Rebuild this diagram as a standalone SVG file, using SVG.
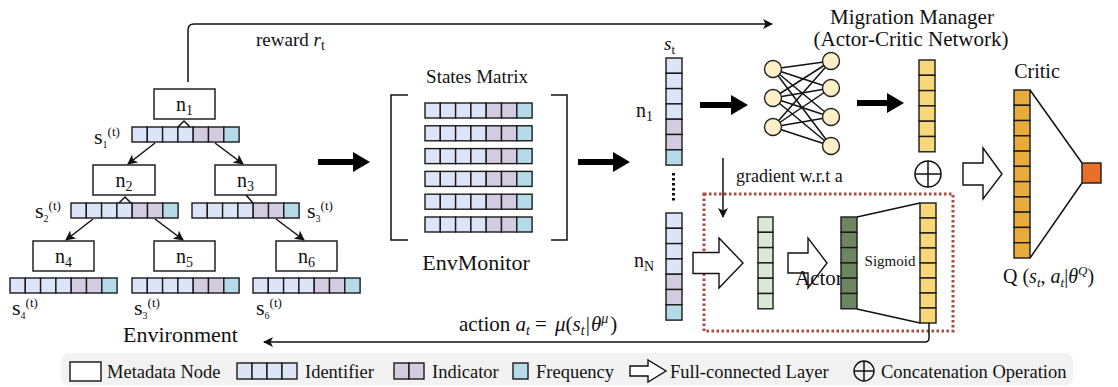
<svg xmlns="http://www.w3.org/2000/svg" width="1118" height="387" viewBox="0 0 1118 387">
<style>
.t{font-family:"Liberation Serif","Times New Roman",serif;fill:#111}
.i{font-style:italic}
.c{stroke:#1a1a1a;stroke-width:1.4}
.id{fill:#dce5f7}.ind{fill:#d3cce1}.fr{fill:#b5dbe9}
.nb{fill:#fff;stroke:#222;stroke-width:1.5}
.ln{stroke:#111;stroke-width:1.5;fill:none}
.ha{fill:#fff;stroke:#111;stroke-width:1.4}
.ta{fill:#000}
.nn{fill:#fdf0c8;stroke:#222;stroke-width:1.4}
.y{fill:#f9d87a}.cr{fill:#e8ab3c}.lg{fill:#d9e9d3}.dg{fill:#6d8661}
</style>
<defs>
<marker id="ah" viewBox="0 0 10 10" refX="9" refY="5" markerWidth="10" markerHeight="10" markerUnits="userSpaceOnUse" orient="auto">
<path d="M0,0 L10,5 L0,10 L2.5,5 Z" fill="#111"/>
</marker>
<g id="hs">
<rect class="c id" x="0" y="0" width="15.3" height="15"/>
<rect class="c id" x="15.3" y="0" width="15.3" height="15"/>
<rect class="c id" x="30.6" y="0" width="15.3" height="15"/>
<rect class="c id" x="45.9" y="0" width="15.3" height="15"/>
<rect class="c ind" x="61.2" y="0" width="15.3" height="15"/>
<rect class="c ind" x="76.5" y="0" width="15.3" height="15"/>
<rect class="c fr" x="91.8" y="0" width="15.3" height="15"/>
</g>
<g id="vs">
<rect class="c id" x="0" y="0" width="16" height="15.3"/>
<rect class="c id" x="0" y="15.3" width="16" height="15.3"/>
<rect class="c id" x="0" y="30.6" width="16" height="15.3"/>
<rect class="c id" x="0" y="45.9" width="16" height="15.3"/>
<rect class="c ind" x="0" y="61.2" width="16" height="15.3"/>
<rect class="c ind" x="0" y="76.5" width="16" height="15.3"/>
<rect class="c fr" x="0" y="91.8" width="16" height="15.3"/>
</g>
<path id="thick" d="M0,-3 H35 V-10 L52,0 L35,10 V3 H0 Z"/>
</defs>

<g id="tree">
<g id="n1"><rect class="nb" x="154" y="89" width="61" height="30"/><text class="t" x="184.5" y="111" font-size="20" text-anchor="middle">n<tspan font-size="14" dy="4">1</tspan></text></g>
<g id="n2"><rect class="nb" x="93" y="165" width="62" height="30"/><text class="t" x="124" y="187" font-size="20" text-anchor="middle">n<tspan font-size="14" dy="4">2</tspan></text></g>
<g id="n3"><rect class="nb" x="215" y="165" width="61" height="30"/><text class="t" x="245.5" y="187" font-size="20" text-anchor="middle">n<tspan font-size="14" dy="4">3</tspan></text></g>
<g id="n4"><rect class="nb" x="33" y="241" width="61" height="30"/><text class="t" x="63.5" y="263" font-size="20" text-anchor="middle">n<tspan font-size="14" dy="4">4</tspan></text></g>
<g id="n5"><rect class="nb" x="154" y="241" width="61" height="30"/><text class="t" x="184.5" y="263" font-size="20" text-anchor="middle">n<tspan font-size="14" dy="4">5</tspan></text></g>
<g id="n6"><rect class="nb" x="276" y="241" width="61" height="30"/><text class="t" x="306.5" y="263" font-size="20" text-anchor="middle">n<tspan font-size="14" dy="4">6</tspan></text></g>
<g id="s1"><use href="#hs" x="132" y="127"/><text class="t" x="94" y="144" font-size="22">s<tspan font-size="10" dy="4">1</tspan><tspan font-size="13" dy="-12">(t)</tspan></text></g>
<g id="s2"><use href="#hs" x="71" y="203"/><text class="t" x="35" y="218" font-size="22">s<tspan font-size="10" dy="4">2</tspan><tspan font-size="13" dy="-12">(t)</tspan></text></g>
<g id="s3"><use href="#hs" x="192" y="203"/><text class="t" x="307" y="218" font-size="22">s<tspan font-size="10" dy="4">3</tspan><tspan font-size="13" dy="-12">(t)</tspan></text></g>
<g id="s4"><use href="#hs" x="10" y="278"/><text class="t" x="12" y="315" font-size="22">s<tspan font-size="10" dy="4">4</tspan><tspan font-size="13" dy="-12">(t)</tspan></text></g>
<g id="s5"><use href="#hs" x="132" y="278"/><text class="t" x="134" y="315" font-size="22">s<tspan font-size="10" dy="4">3</tspan><tspan font-size="13" dy="-12">(t)</tspan></text></g>
<g id="s6"><use href="#hs" x="253" y="278"/><text class="t" x="256" y="315" font-size="22">s<tspan font-size="10" dy="4">6</tspan><tspan font-size="13" dy="-12">(t)</tspan></text></g>
<text class="t" x="123" y="342" font-size="22">Environment</text>
</g>

<g id="env-monitor">
<text class="t" x="477" y="83" font-size="19" text-anchor="middle">States Matrix</text>
<path class="ln" d="M408,95 H391 V240 H408"/>
<path class="ln" d="M551,95 H567 V240 H551"/>
<use href="#hs" x="425" y="103"/>
<use href="#hs" x="425" y="125.8"/>
<use href="#hs" x="425" y="148.6"/>
<use href="#hs" x="425" y="171.4"/>
<use href="#hs" x="425" y="194.2"/>
<use href="#hs" x="425" y="217"/>
<text class="t" x="476" y="270" font-size="22" text-anchor="middle">EnvMonitor</text>
</g>

<g id="state-vector">
<text class="t i" x="664" y="50" font-size="19">s<tspan font-style="normal" font-size="13" dy="4">t</tspan></text>
<use href="#vs" x="666" y="58"/>
<use href="#vs" x="666" y="213"/>
<text class="t" x="636" y="117" font-size="20">n<tspan font-size="14" dy="4">1</tspan></text>
<text class="t" x="634" y="267" font-size="20">n<tspan font-size="14" dy="4">N</tspan></text>
<line x1="673.5" y1="173" x2="673.5" y2="201" stroke="#111" stroke-width="3" stroke-dasharray="2.5 2.5"/>
</g>

<g id="migration-manager">
<text class="t" x="912" y="24" font-size="21" text-anchor="middle">Migration Manager</text>
<text class="t" x="911" y="46" font-size="21" text-anchor="middle">(Actor-Critic Network)</text>
<g class="ln" stroke-width="1.3">
<line x1="773" y1="69" x2="831" y2="61"/><line x1="773" y1="69" x2="831" y2="88"/><line x1="773" y1="69" x2="831" y2="117"/><line x1="773" y1="69" x2="831" y2="146"/>
<line x1="773" y1="98" x2="831" y2="61"/><line x1="773" y1="98" x2="831" y2="88"/><line x1="773" y1="98" x2="831" y2="117"/><line x1="773" y1="98" x2="831" y2="146"/>
<line x1="773" y1="127" x2="831" y2="61"/><line x1="773" y1="127" x2="831" y2="88"/><line x1="773" y1="127" x2="831" y2="117"/><line x1="773" y1="127" x2="831" y2="146"/>
</g>
<circle class="nn" cx="773" cy="69" r="8.5"/><circle class="nn" cx="773" cy="98" r="8.5"/><circle class="nn" cx="773" cy="127" r="8.5"/>
<circle class="nn" cx="831" cy="61" r="8.5"/><circle class="nn" cx="831" cy="88" r="8.5"/><circle class="nn" cx="831" cy="117" r="8.5"/><circle class="nn" cx="831" cy="146" r="8.5"/>
<g class="c y">
<rect x="919" y="60" width="16" height="15.3"/><rect x="919" y="75.3" width="16" height="15.3"/><rect x="919" y="90.6" width="16" height="15.3"/><rect x="919" y="105.9" width="16" height="15.3"/><rect x="919" y="121.2" width="16" height="15.3"/><rect x="919" y="136.5" width="16" height="15.3"/>
</g>
<g id="concat"><circle cx="928" cy="174" r="13" fill="#fff" stroke="#111" stroke-width="1.5"/><path class="ln" d="M915,174 H941 M928,161 V187"/></g>
</g>

<g id="actor">
<rect x="704" y="194" width="249" height="137" fill="none" stroke="#b04a3c" stroke-width="3" stroke-dasharray="2.5 2.5"/>
<path class="ha" d="M693,252.5 H719 V238 L743,263 L719,288 V273.5 H693 Z"/>
<g class="c lg">
<rect x="758" y="217" width="15" height="15.3"/><rect x="758" y="232.3" width="15" height="15.3"/><rect x="758" y="247.6" width="15" height="15.3"/><rect x="758" y="262.9" width="15" height="15.3"/><rect x="758" y="278.2" width="15" height="15.3"/><rect x="758" y="293.5" width="15" height="15.3"/>
</g>
<path class="ha" d="M788,253 H808 V238 L827,263 L808,288 V273 H788 Z"/>
<text class="t" x="795" y="285" font-size="21">Actor</text>
<g class="c dg">
<rect x="841" y="217" width="16" height="15.3"/><rect x="841" y="232.3" width="16" height="15.3"/><rect x="841" y="247.6" width="16" height="15.3"/><rect x="841" y="262.9" width="16" height="15.3"/><rect x="841" y="278.2" width="16" height="15.3"/><rect x="841" y="293.5" width="16" height="15.3"/>
</g>
<path class="ln" d="M857,217 L920,203 M857,309 L920,323"/>
<text class="t" x="890" y="266" font-size="15" text-anchor="middle">Sigmoid</text>
<g class="c y">
<rect x="920" y="203" width="16" height="15"/><rect x="920" y="218" width="16" height="15"/><rect x="920" y="233" width="16" height="15"/><rect x="920" y="248" width="16" height="15"/><rect x="920" y="263" width="16" height="15"/><rect x="920" y="278" width="16" height="15"/><rect x="920" y="293" width="16" height="15"/><rect x="920" y="308" width="16" height="15"/>
</g>
</g>

<g id="critic">
<text class="t" x="1037" y="78" font-size="20" text-anchor="middle">Critic</text>
<path class="ha" d="M963,163 H983 V148 L1002,174 L983,199 V185 H963 Z"/>
<g class="c cr">
<rect x="1014" y="90" width="16" height="15.27"/><rect x="1014" y="105.27" width="16" height="15.27"/><rect x="1014" y="120.54" width="16" height="15.27"/><rect x="1014" y="135.81" width="16" height="15.27"/><rect x="1014" y="151.08" width="16" height="15.27"/><rect x="1014" y="166.35" width="16" height="15.27"/><rect x="1014" y="181.62" width="16" height="15.27"/><rect x="1014" y="196.89" width="16" height="15.27"/><rect x="1014" y="212.16" width="16" height="15.27"/><rect x="1014" y="227.43" width="16" height="15.27"/><rect x="1014" y="242.7" width="16" height="15.3"/>
</g>
<path class="ln" d="M1030,90 L1082,163 M1030,258 L1082,183"/>
<rect x="1082" y="163" width="19" height="20" fill="#e8702a" stroke="#1a1a1a" stroke-width="1.4"/>
<text class="t" x="1003" y="283" font-size="20">Q (<tspan class="i">s</tspan><tspan font-size="13" dy="4" class="i">t</tspan><tspan dy="-4">, </tspan><tspan class="i">a</tspan><tspan font-size="13" dy="4" class="i">t</tspan><tspan dy="-4">|</tspan><tspan class="i">θ</tspan><tspan font-size="13" dy="-8" class="i">Q</tspan><tspan dy="8">)</tspan></text>
</g>

<g id="connectors">
<path class="ln" d="M155,143 L128,164" marker-end="url(#ah)"/>
<path class="ln" d="M215,143 L243,164" marker-end="url(#ah)"/>
<path class="ln" d="M93,219 L66,240" marker-end="url(#ah)"/>
<path class="ln" d="M155,219 L183,240" marker-end="url(#ah)"/>
<path class="ln" d="M276,219 L304,240" marker-end="url(#ah)"/>
<path class="ln" d="M178,127 L184,121 L190,127 M119,203 L125,197 L131,203 M246,195 L253,203"/>
<use href="#thick" class="ta" x="318" y="162"/>
<use href="#thick" class="ta" x="578" y="162"/>
<path class="ta" d="M700,102 H731 V95 L748,105 L731,115 V108 H700 Z"/>
<path class="ta" d="M857,100 H887 V93 L904,103 L887,113 V106 H857 Z"/>
<path class="ln" d="M188,82 V30 Q188,24 194,24 H772" marker-end="url(#ah)"/>
<text class="t" x="256" y="46" font-size="19">reward <tspan class="i">r</tspan><tspan font-size="14" dy="4">t</tspan></text>
<path class="ln" d="M723,158 V217" marker-end="url(#ah)"/>
<text class="t" x="736" y="182" font-size="18">gradient w.r.t a</text>
<path class="ln" d="M929,323 V338 Q929,342 925,342 H264" marker-end="url(#ah)"/>
<text class="t" x="459" y="331" font-size="21">action <tspan class="i">a</tspan><tspan font-size="14" dy="4" class="i">t</tspan><tspan dy="-4" dx="5">= </tspan><tspan class="i" dx="3">μ</tspan>(<tspan class="i">s</tspan><tspan font-size="14" dy="4" class="i">t</tspan><tspan dy="-4" dx="1">|</tspan><tspan class="i" dx="1">θ</tspan><tspan font-size="14" dy="-8" class="i">μ</tspan><tspan dy="8" dx="2">)</tspan></text>
</g>

<g id="legend">
<rect x="61" y="353" width="1012" height="32" rx="8" fill="#f2f2f2"/>
<rect class="nb" x="70" y="362" width="31" height="19"/>
<text class="t" x="107" y="378" font-size="18.5">Metadata Node</text>
<rect class="c id" x="237" y="363" width="15" height="16"/><rect class="c id" x="252" y="363" width="15" height="16"/><rect class="c id" x="267" y="363" width="15" height="16"/><rect class="c id" x="282" y="363" width="15" height="16"/>
<text class="t" x="305" y="378" font-size="18.5">Identifier</text>
<rect class="c ind" x="394" y="363" width="15" height="16"/><rect class="c ind" x="409" y="363" width="15" height="16"/>
<text class="t" x="432" y="378" font-size="18.5">Indicator</text>
<rect class="c fr" x="513" y="363" width="15" height="16"/>
<text class="t" x="536" y="378" font-size="18.5">Frequency</text>
<path class="ha" d="M630,366 H648 V360 L666,371 L648,382 V376 H630 Z"/>
<text class="t" x="670" y="378" font-size="18.5">Full-connected Layer</text>
<circle cx="864" cy="371" r="10" fill="none" stroke="#111" stroke-width="1.4"/>
<path class="ln" d="M854,371 H874 M864,361 V381" stroke-width="1.4"/>
<text class="t" x="881" y="378" font-size="18.5">Concatenation Operation</text>
</g>
</svg>
